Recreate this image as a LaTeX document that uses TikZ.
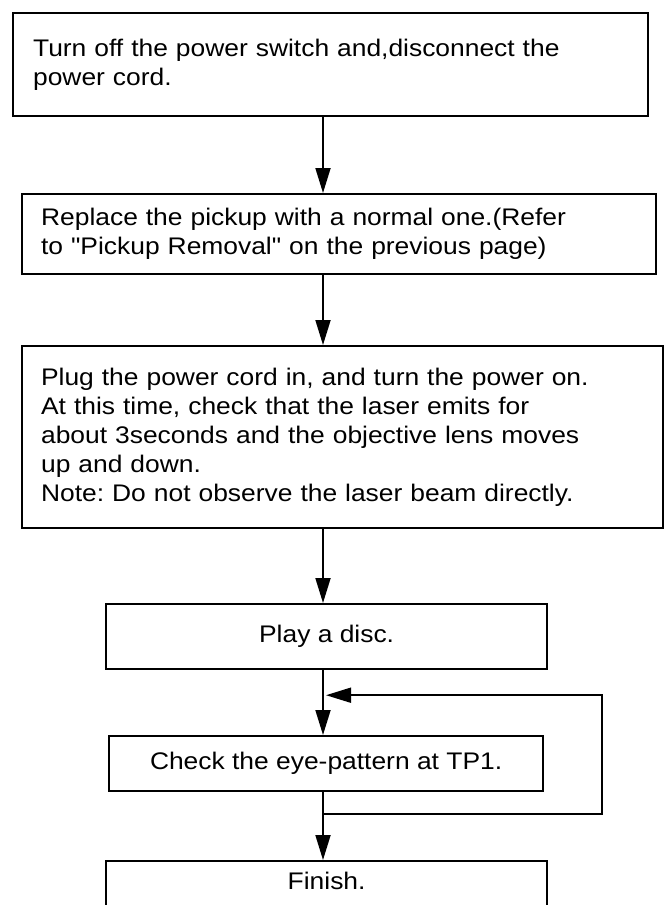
\documentclass[tikz,border=0pt]{standalone}
\usepackage{fontspec}
\setmainfont{Liberation Sans}[FakeStretch=1.1, Ligatures=TeXOff]
\usetikzlibrary{arrows.meta, positioning, calc}
\frenchspacing

\begin{document}
\begin{tikzpicture}[x=1pt, y=-1pt,
      stepbox/.style={draw, rectangle, line width=2.2pt, anchor=north west,
                      inner xsep=0pt, inner ysep=0pt,
                      font=\fontsize{24}{29}\selectfont},
      wide/.style={stepbox, align=left},
      narrow/.style={stepbox, align=center},
      flow/.style={line width=1.8pt, -{Triangle[length=25pt, width=15pt]}}
    ]
    \clip (0,0) rectangle (664,905);

    % Schritte
    \node[wide, minimum width=635pt, minimum height=103pt, text width=595pt] (turnoff) at (12,12)
      {Turn off the power switch and,disconnect the\\power cord.};
    \node[wide, minimum width=634pt, minimum height=80pt, text width=596pt] (replace) at (21,193)
      {Replace the pickup with a normal one.(Refer\\to "Pickup Removal" on the previous page)};
    \node[wide, minimum width=641pt, minimum height=182pt, text width=603pt] (plugin) at (21,345)
      {Plug the power cord in, and turn the power on.\\
       At this time, check that the laser emits for\\
       about 3seconds and the objective lens moves\\
       up and down.\\
       Note: Do not observe the laser beam directly.};
    \node[narrow, minimum width=441pt, minimum height=65pt] (play)   at (105,603) {Play a disc.};
    \node[narrow, minimum width=434pt, minimum height=55pt] (check)  at (108,735) {Check the eye-pattern at TP1.};
    \node[narrow, minimum width=441pt, minimum height=80pt, text depth=40pt] (finish) at (105,860) {Finish.};

    % Pfeile
    \coordinate (spine) at (323,0);
    \draw[flow] (turnoff.south -| spine) -- (replace.north -| spine);
    \draw[flow] (replace.south -| spine) -- (plugin.north -| spine);
    \draw[flow] (plugin.south -| spine)  -- (play.north -| spine);
    \draw[flow] (play.south -| spine)    -- (check.north -| spine);
    \draw[flow] (check.south -| spine)   -- (finish.north -| spine);

    % Rueckfuehrung
    \coordinate (loopout) at ($(check.south -| spine)+(0,22)$);
    \coordinate (loopin)  at ($(play.south -| spine)+(3,25)$);
    \draw[flow] (loopout) -- ++(279,0) |- (loopin);
  \end{tikzpicture}
\end{document}
